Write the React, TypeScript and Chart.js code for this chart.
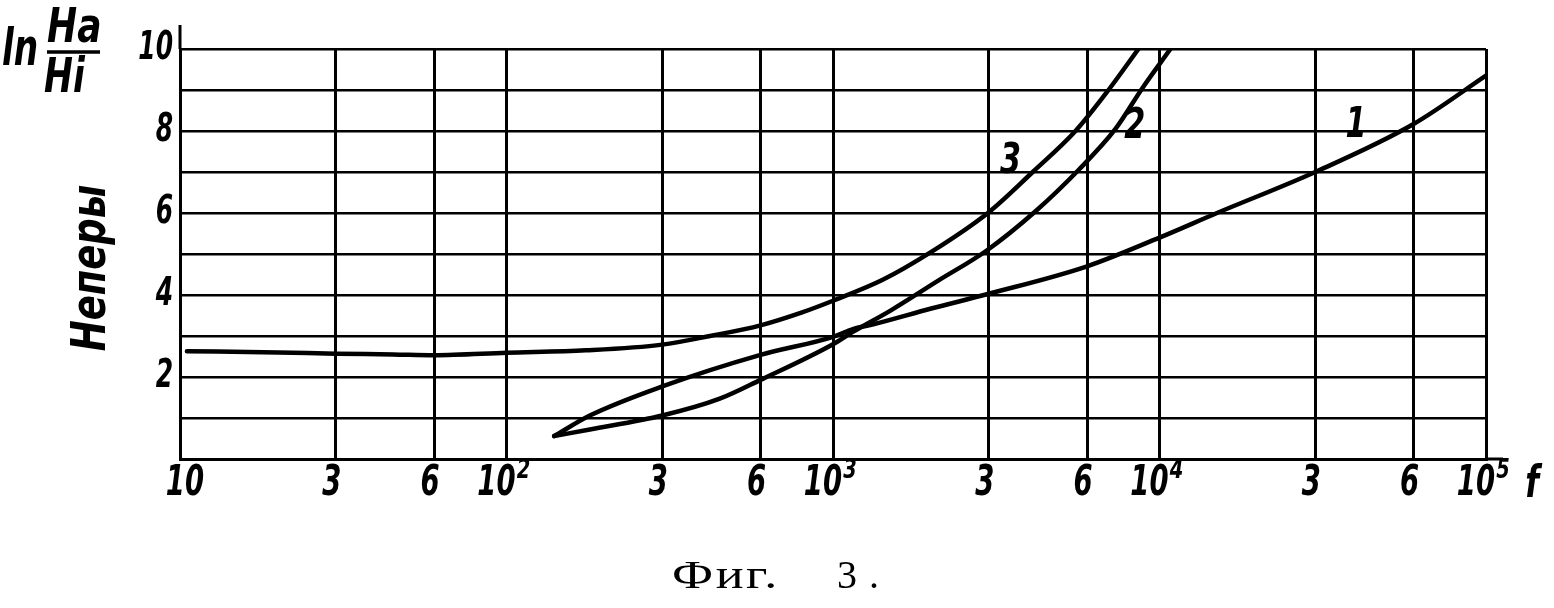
import React, { useEffect, useRef } from "react";
import { Chart, registerables } from "chart.js";

Chart.register(...registerables);

// ---- data (frequency f, value in nepers) ----
const curve1F = [140, 180, 300, 600, 1000, 1150, 1320, 2000, 3000, 6000, 10000, 15000, 30000, 60000, 100000];
const curve1V = [0.56, 1.06, 1.77, 2.54, 2.98, 3.17, 3.28, 3.67, 4.03, 4.7, 5.4, 6.0, 7.0, 8.17, 9.35];

const curve2F = [140, 180, 300, 450, 600, 1000, 1150, 1500, 2100, 2950, 4180, 5650, 7330, 8870, 10800];
const curve2V = [0.56, 0.72, 1.06, 1.47, 1.93, 2.8, 3.1, 3.62, 4.35, 5.08, 6.05, 7.05, 8.05, 9.05, 10.0];

const curve3F = [10.5, 20, 30, 45, 60, 100, 175, 300, 420, 600, 800, 1000, 1420, 2000, 2980, 4090, 5530, 6980, 8620];
const curve3V = [2.63, 2.6, 2.57, 2.55, 2.53, 2.59, 2.65, 2.79, 3.0, 3.26, 3.57, 3.86, 4.37, 5.05, 6.0, 7.0, 8.0, 9.0, 10.0];

const curveNames = ["1", "2", "3"];
const curveLabelF = [40000, 8400, 3500];
const curveLabelV = [8.12, 8.1, 7.24];

const xTickValues = [10, 30, 60, 100, 300, 600, 1000, 3000, 6000, 10000, 30000, 60000, 100000];
const xTickBase = ["10", "3", "6", "10", "3", "6", "10", "3", "6", "10", "3", "6", "10"];
const xTickExp = ["", "", "", "2", "", "", "3", "", "", "4", "", "", "5"];
const xAxisName = "f";

const yTickValues = [0, 1, 2, 3, 4, 5, 6, 7, 8, 9, 10];
const yLabelValues = [2, 4, 6, 8, 10];
const yUnitName = "Неперы";
const captionMain = "Фиг.";
const captionNum = "3.";

const HAND = "'DejaVu Sans'";

function txt(ctx: CanvasRenderingContext2D, s: string, x: number, y: number, font: string, sx: number, align: CanvasTextAlign, base: CanvasTextBaseline) {
  ctx.save();
  ctx.translate(x, y);
  ctx.scale(sx, 1);
  ctx.font = font;
  ctx.textAlign = align;
  ctx.textBaseline = base;
  ctx.fillText(s, 0, 0);
  ctx.restore();
}

const decorPlugin = {
  id: "decor",
  afterDraw(chart: any) {
    const ctx: CanvasRenderingContext2D = chart.ctx;
    const { left, right, top, bottom } = chart.chartArea;
    const xs = chart.scales.x;
    const ys = chart.scales.y;
    ctx.save();
    ctx.fillStyle = "#000";
    ctx.strokeStyle = "#000";

    // axis extensions
    ctx.lineWidth = 3;
    ctx.beginPath();
    ctx.moveTo(left, top - 24);
    ctx.lineTo(left, top);
    ctx.stroke();
    ctx.beginPath();
    ctx.moveTo(right, bottom);
    ctx.lineTo(right + 17, bottom);
    ctx.stroke();

    // y tick labels
    yLabelValues.forEach((v) => {
      const py = ys.getPixelForValue(v);
      txt(ctx, String(v), left - 7, py, `italic bold 39px ${HAND}`, 0.64, "right", "middle");
    });

    // x tick labels
    const fontX = `italic bold 43px ${HAND}`;
    xTickValues.forEach((v, i) => {
      const px = xs.getPixelForValue(v) + (i === 0 ? 5 : -4);
      const base = xTickBase[i];
      const exp = xTickExp[i];
      const ly = 484;
      if (!exp) {
        txt(ctx, base, px, ly, fontX, 0.64, "center", "middle");
      } else {
        ctx.save();
        ctx.font = fontX;
        const w = ctx.measureText(base).width * 0.64;
        ctx.restore();
        const bx = px - 6;
        txt(ctx, base, bx, ly, fontX, 0.64, "center", "middle");
        txt(ctx, exp, bx + w / 2 + 1, 471, `italic bold 27px ${HAND}`, 0.72, "left", "middle");
        if (i === xTickValues.length - 1) {
          txt(ctx, xAxisName, bx + w / 2 + 30, 486, `italic bold 44px ${HAND}`, 0.72, "left", "middle");
        }
      }
    });

    // curve labels
    curveNames.forEach((n, i) => {
      const px = xs.getPixelForValue(curveLabelF[i]);
      const py = ys.getPixelForValue(curveLabelV[i]);
      txt(ctx, n, px, py, `italic bold 42px ${HAND}`, 0.72, "center", "middle");
    });

    // y title: ln Ha/Hi
    txt(ctx, "ln", 2, 65, `italic bold 52px ${HAND}`, 0.66, "left", "alphabetic");
    txt(ctx, "Ha", 47, 42, `italic bold 48px ${HAND}`, 0.75, "left", "alphabetic");
    ctx.lineWidth = 3.5;
    ctx.beginPath();
    ctx.moveTo(47, 52);
    ctx.lineTo(100, 52);
    ctx.stroke();
    txt(ctx, "Hi", 44, 92, `italic bold 48px ${HAND}`, 0.72, "left", "alphabetic");

    // rotated unit
    ctx.save();
    ctx.translate(105, 268);
    ctx.rotate(-Math.PI / 2);
    ctx.scale(0.77, 1);
    ctx.font = `italic bold 48px ${HAND}`;
    ctx.textAlign = "center";
    ctx.textBaseline = "alphabetic";
    ctx.fillText(yUnitName, 0, 0);
    ctx.restore();

    // caption
    ctx.save();
    ctx.translate(672, 588);
    ctx.scale(1.3, 1);
    ctx.font = "40px 'Liberation Serif'";
    ctx.textAlign = "left";
    ctx.textBaseline = "alphabetic";
    (ctx as any).letterSpacing = "2px";
    ctx.fillText(captionMain, 0, 0);
    ctx.restore();
    ctx.save();
    ctx.font = "40px 'Liberation Serif'";
    (ctx as any).letterSpacing = "12px";
    ctx.textAlign = "left";
    ctx.textBaseline = "alphabetic";
    ctx.fillText(captionNum, 837, 588);
    ctx.restore();

    ctx.restore();
  },
};

export default function App() {
  const ref = useRef<HTMLCanvasElement | null>(null);
  useEffect(() => {
    if (!ref.current) return;
    const mk = (F: number[], V: number[], name: string) => ({
      label: name,
      data: F.map((f, i) => ({ x: f, y: V[i] })),
      borderColor: "#000",
      backgroundColor: "#000",
      borderWidth: 4.5,
      pointRadius: 0,
      fill: false,
      borderJoinStyle: "round" as const,
      borderCapStyle: "round" as const,
      cubicInterpolationMode: "monotone" as const,
    });
    const chart = new Chart(ref.current, {
      type: "line",
      data: {
        datasets: [mk(curve1F, curve1V, "1"), mk(curve2F, curve2V, "2"), mk(curve3F, curve3V, "3")],
      },
      options: {
        responsive: false,
        animation: false,
        events: [],
        layout: { padding: { left: 180, top: 49, right: 68, bottom: 149 }, autoPadding: false },
        plugins: { legend: { display: false }, tooltip: { enabled: false }, title: { display: false } },
        scales: {
          x: {
            type: "logarithmic",
            min: 10,
            max: 100000,
            afterBuildTicks: (ax: any) => {
              ax.ticks = xTickValues.map((v) => ({ value: v }));
            },
            ticks: { display: false },
            grid: { color: "#000", lineWidth: 3, drawTicks: false },
            border: { color: "#000", width: 3 },
          },
          y: {
            type: "linear",
            min: 0,
            max: 10,
            afterBuildTicks: (ax: any) => {
              ax.ticks = yTickValues.map((v) => ({ value: v }));
            },
            ticks: { display: false },
            grid: { color: "#000", lineWidth: 2.5, drawTicks: false },
            border: { color: "#000", width: 3 },
          },
        },
      },
      plugins: [decorPlugin],
    } as any);
    return () => chart.destroy();
  }, []);
  return (
    <div style={{ position: "fixed", left: 0, top: 0, width: 1554, height: 608, background: "#fff" }}>
      <canvas ref={ref} width={1554} height={608} style={{ display: "block" }} />
    </div>
  );
}
